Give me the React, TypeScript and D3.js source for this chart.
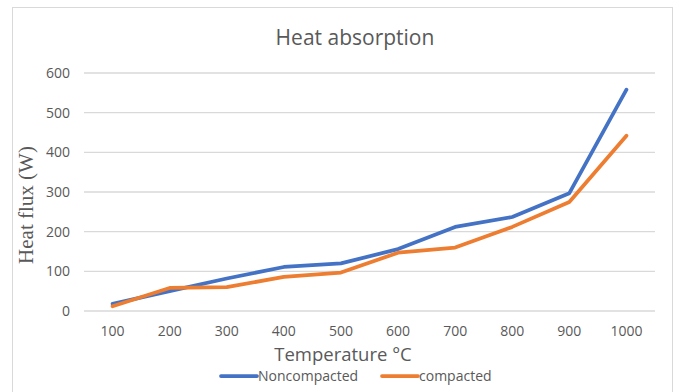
import React from "react";
import * as d3 from "d3";

const categories = ["100", "200", "300", "400", "500", "600", "700", "800", "900", "1000"];
const noncompacted = [18, 50, 82, 111, 120, 156, 212, 237, 297, 558];
const compacted = [12, 58, 60, 86, 97, 147, 160, 212, 275, 442];
const yTicks = [0, 100, 200, 300, 400, 500, 600];
const seriesNames = ["Noncompacted", "compacted"];
const colors = ["#4472C4", "#ED7D31"];

const W = 680;
const H = 392;
const FONT = "'Open Sans', Lato, sans-serif";

export default function App() {
  const x = d3.scaleBand<string>().domain(categories).range([84, 655]);
  const y = d3.scaleLinear().domain([0, 600]).range([311, 73]);
  const line = d3
    .line<number>()
    .x((_, i) => (x(categories[i]) as number) + x.bandwidth() / 2)
    .y((d) => y(d));
  const series = [noncompacted, compacted];

  return (
    <svg
      width={W}
      height={H}
      style={{ position: "absolute", left: 0, top: 0, background: "#fff" }}
    >
      <rect x={12.5} y={7.5} width={660} height={400} fill="#fff" stroke="#d9d9d9" strokeWidth={1} />
      <text x={355} y={45} textAnchor="middle" fontFamily={FONT} fontSize={21} fill="#595959">
        Heat absorption
      </text>
      {yTicks.map((t) => (
        <g key={t}>
          <line x1={84} x2={655} y1={y(t)} y2={y(t)} stroke="#d9d9d9" strokeWidth={1.3} />
          <text x={70} y={y(t) + 5} textAnchor="end" fontFamily={FONT} fontSize={14} fill="#595959">
            {t}
          </text>
        </g>
      ))}
      {categories.map((c) => (
        <text
          key={c}
          x={(x(c) as number) + x.bandwidth() / 2}
          y={336}
          textAnchor="middle"
          fontFamily={FONT}
          fontSize={14}
          fill="#595959"
        >
          {c}
        </text>
      ))}
      <text
        transform={`translate(33,205) rotate(-90)`}
        textAnchor="middle"
        fontFamily="'Liberation Serif', 'DejaVu Serif', serif"
        fontSize={21}
        fill="#595959"
      >
        Heat flux (W)
      </text>
      <text x={343} y={361} textAnchor="middle" fontFamily={FONT} fontSize={18.5} fill="#595959">
        Temperature °C
      </text>
      {series.map((s, i) => (
        <path
          key={i}
          d={line(s) as string}
          fill="none"
          stroke={colors[i]}
          strokeWidth={3.75}
          strokeLinejoin="round"
          strokeLinecap="round"
        />
      ))}
      {seriesNames.map((n, i) => {
        const lx = i === 0 ? 221 : 382;
        return (
          <g key={n}>
            <line x1={lx} x2={lx + 36} y1={376} y2={376} stroke={colors[i]} strokeWidth={3.75} strokeLinecap="round" />
            <text x={lx + 37} y={381} fontFamily={FONT} fontSize={14} fill="#595959">
              {n}
            </text>
          </g>
        );
      })}
    </svg>
  );
}
